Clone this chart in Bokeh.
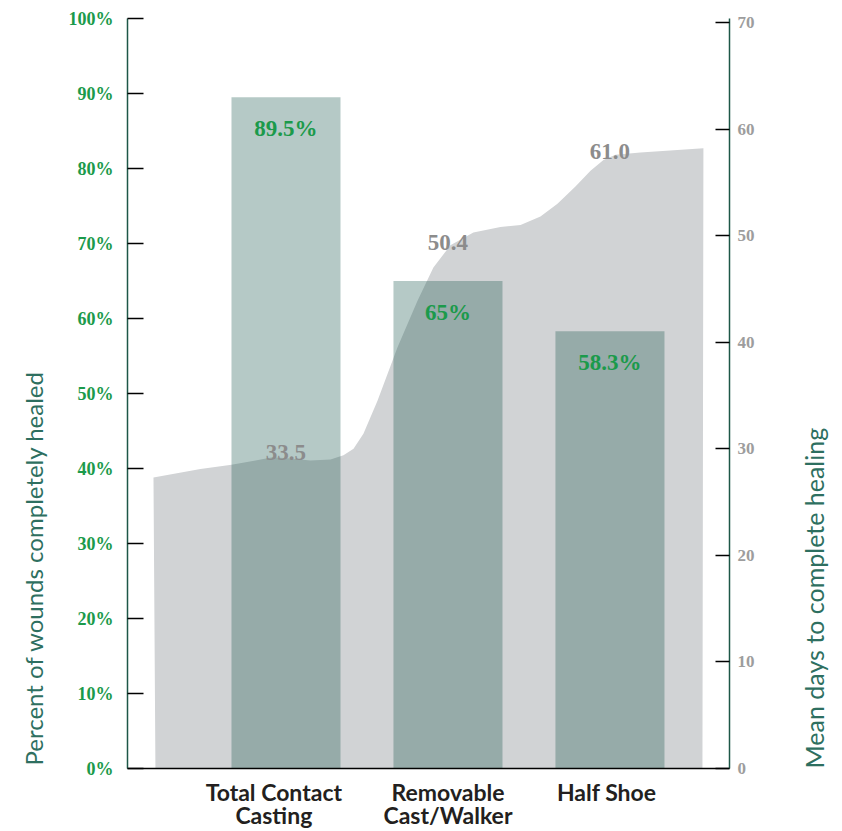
import math
import numpy as np
from bokeh.plotting import figure
from bokeh.models import Range1d, LinearAxis, FixedTicker, Title
from bokeh.core.properties import value
from bokeh.embed import file_html
from bokeh.resources import INLINE

# ---------------- data ----------------
categories = ["Total Contact\nCasting", "Removable\nCast/Walker", "Half Shoe"]
pct_healed = [89.5, 65.0, 58.3]
pct_labels = ["89.5%", "65%", "58.3%"]
mean_days = [33.5, 50.4, 61.0]
days_labels = ["33.5", "50.4", "61.0"]

# outline of the grey "mean days" area as drawn (x in category units, y in days)
area_x = [0.182, 0.472, 0.664, 0.812, 0.917, 1.028, 1.151, 1.275, 1.355, 1.417,
          1.478, 1.565, 1.688, 1.812, 1.910, 2.015, 2.157, 2.324, 2.448, 2.571,
          2.676, 2.787, 2.880, 2.960, 3.034, 3.188, 3.577]
area_y = [27.3, 28.1, 28.5, 28.9, 29.2, 29.1, 28.9, 29.0, 29.4, 30.0,
          31.4, 34.5, 39.5, 43.9, 47.0, 49.1, 50.3, 50.8, 51.0, 51.8,
          53.0, 54.6, 56.1, 57.1, 57.6, 57.8, 58.2]
area_base_x = [0.194, 3.571]

pct_ticks = list(range(0, 101, 10))
days_ticks = list(range(0, 71, 10))

left_title = "Percent of wounds completely healed"
right_title = "Mean days to complete healing"

# ---------------- layout ----------------
bar_x = [i + 1 for i in range(len(categories))]
label_shift = [-0.075, 0.0, -0.02]
tick_x = [bx + s for bx, s in zip(bar_x, label_shift)]

GREEN = "#1b9a4b"
GREY_TXT = "#8c8c8c"
AXIS_GREEN = "#1d5747"
TITLE = "#2e6f60"
SERIF = value("Liberation Serif")

p = figure(frame_width=602, frame_height=750,
           x_range=Range1d(0.0216, 3.738), y_range=Range1d(0, 100),
           output_backend="svg", toolbar_location=None,
           x_axis_location=None, y_axis_location=None,
           min_border_left=127, min_border_right=113,
           min_border_top=18, min_border_bottom=63)
p.extra_y_ranges = {"days": Range1d(0, 70.375)}
p.outline_line_color = None
p.grid.visible = False
p.background_fill_color = "white"

# area (days)
px = [area_base_x[0]] + area_x + [area_base_x[1]]
py = [0] + area_y + [0]
p.patch(px, py, y_range_name="days", fill_color="#d1d3d5", line_color=None)

# bars (percent)
p.vbar(x=bar_x, top=pct_healed, width=0.673, fill_color="#18564d",
       fill_alpha=0.32, line_color=None)

# labels for bars
p.text(x=bar_x, y=pct_healed, text=pct_labels, text_font=SERIF,
       text_font_style="bold", text_font_size="23px", text_color=GREEN,
       text_align="center", text_baseline="alphabetic", y_offset=31)

# labels for area
lab_y = list(np.interp(bar_x, area_x, area_y))
p.text(x=bar_x, y=lab_y, text=days_labels, y_range_name="days",
       text_font=SERIF, text_font_style="bold", text_font_size="23px",
       text_color=GREY_TXT, text_align="center", text_baseline="alphabetic",
       y_offset=-6)

axis_props = LinearAxis.properties()

# left axis (ticks)
la = LinearAxis(ticker=FixedTicker(ticks=pct_ticks),
                major_label_overrides={t: f"{t}%" for t in pct_ticks})
la.axis_line_color = AXIS_GREEN
la.axis_line_width = 1.5
la.major_tick_line_color = "black"
la.major_tick_line_width = 1.5
la.major_tick_in = 16
la.major_tick_out = 0
la.minor_tick_line_color = None
la.major_label_standoff = 14
la.major_label_text_font = "Liberation Serif"
la.major_label_text_font_style = "bold"
la.major_label_text_font_size = "18px"
la.major_label_text_color = GREEN
p.add_layout(la, "left")

# left title, anchored at the bottom of the frame, pushed to the outer side
p.add_layout(Title(text=left_title, align="left", vertical_align="top",
                   offset=3, standoff=32,
                   text_font="Lato", text_font_style="normal",
                   text_font_size="24px", text_color=TITLE), "left")

# right axis
ra = LinearAxis(y_range_name="days", ticker=FixedTicker(ticks=days_ticks))
ra.axis_line_color = AXIS_GREEN
ra.axis_line_width = 1.5
ra.major_tick_line_color = "black"
ra.major_tick_line_width = 1.5
ra.major_tick_in = 14
ra.major_tick_out = 0
ra.minor_tick_line_color = None
ra.major_label_standoff = 8
ra.major_label_text_font = "Liberation Serif"
ra.major_label_text_font_style = "bold"
ra.major_label_text_font_size = "17px"
ra.major_label_text_color = "#9d9d9d"
ra.axis_label = right_title
ra.axis_label_text_font = "Lato"
ra.axis_label_text_font_style = "normal"
ra.axis_label_text_font_size = "25px"
ra.axis_label_text_color = TITLE
ra.axis_label_standoff = 56
if "axis_label_align" in axis_props:
    ra.axis_label_align = "start"
if "axis_label_orientation" in axis_props:
    ra.axis_label_orientation = math.pi / 2
p.add_layout(ra, "right")

# bottom axis
ba = LinearAxis(ticker=FixedTicker(ticks=tick_x),
                major_label_overrides={t: c for t, c in zip(tick_x, categories)})
ba.axis_line_color = "black"
ba.axis_line_width = 1.5
ba.major_tick_line_color = None
ba.minor_tick_line_color = None
ba.major_label_standoff = 3
ba.major_label_text_font = "Lato"
ba.major_label_text_font_style = "bold"
ba.major_label_text_font_size = "23px"
ba.major_label_text_color = "#231f20"
ba.major_label_text_line_height = 0.85
p.add_layout(ba, "below")

open("out.html", "w").write(file_html(p, INLINE))
